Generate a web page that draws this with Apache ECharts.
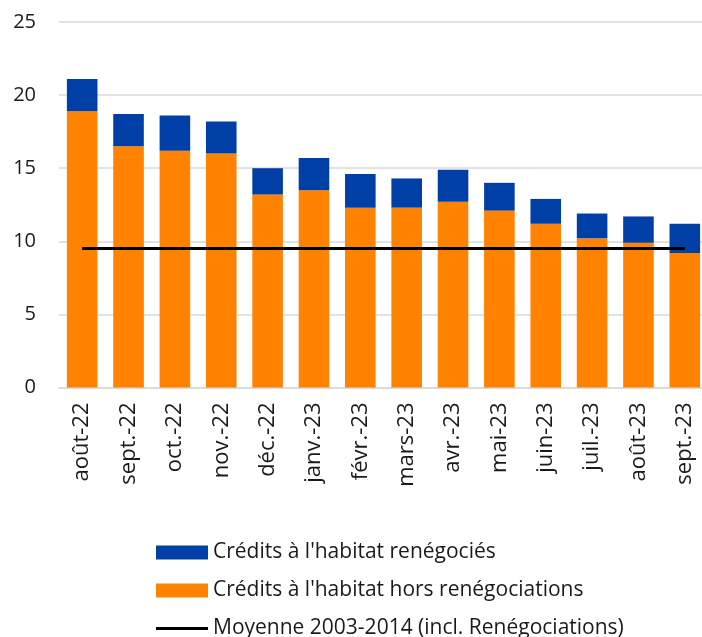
<!DOCTYPE html>
<html lang="fr">
<head>
<meta charset="UTF-8" />
<title>Crédits à l'habitat</title>
<script src="https://cdn.jsdelivr.net/npm/echarts@6/dist/echarts.min.js"></script>
<style>
  html, body { margin: 0; padding: 0; background: #fff; }
  #main { width: 702px; height: 637px; }
</style>
</head>
<body>
<div id="main"></div>
<script>
// données (Md€)
const months = ['août-22', 'sept.-22', 'oct.-22', 'nov.-22', 'déc.-22', 'janv.-23', 'févr.-23',
                'mars-23', 'avr.-23', 'mai-23', 'juin-23', 'juil.-23', 'août-23', 'sept.-23'];
const horsReneg = [18.9, 16.5, 16.2, 16.0, 13.2, 13.5, 12.3, 12.3, 12.7, 12.1, 11.2, 10.2, 9.9, 9.2];
const reneg = [2.2, 2.2, 2.4, 2.2, 1.8, 2.2, 2.3, 2.0, 2.2, 1.9, 1.7, 1.7, 1.8, 2.0];
const moyenne = [9.5, 9.5, 9.5, 9.5, 9.5, 9.5, 9.5, 9.5, 9.5, 9.5, 9.5, 9.5, 9.5, 9.5];

const nomReneg = "Crédits à l'habitat renégociés";
const nomHors = "Crédits à l'habitat hors renégociations";
const nomMoy = "Moyenne 2003-2014 (incl. Renégociations)";

const font = '"Open Sans", "Noto Sans", sans-serif';

let myChart = echarts.init(document.getElementById('main'));
myChart.setOption({
    animation: false,
    textStyle: { fontFamily: font },
    grid: {
        left: 59,
        width: 649,
        top: 22,
        height: 365.5,
        outerBoundsMode: 'none'
    },
    legend: {
        orient: 'vertical',
        left: 156,
        top: 542,
        height: 100,
        padding: 0,
        itemWidth: 52,
        itemHeight: 14,
        itemGap: 17,
        textStyle: { fontSize: 21, color: '#1a1a1a', fontFamily: font },
        data: [
            { name: nomReneg, icon: 'rect' },
            { name: nomHors, icon: 'rect' },
            { name: nomMoy, icon: 'path://M0,0H52V3H0Z' }
        ]
    },
    xAxis: {
        type: 'category',
        data: months,
        axisLine: { lineStyle: { color: '#d9d9d9', width: 1.5 } },
        axisTick: { show: false },
        axisLabel: {
            rotate: 90,
            margin: 15,
            fontSize: 22,
            color: '#1a1a1a',
            fontFamily: font
        }
    },
    yAxis: {
        type: 'value',
        min: 0,
        max: 25,
        interval: 5,
        axisLine: { show: false },
        axisTick: { show: false },
        splitLine: { lineStyle: { color: '#d9d9d9', width: 1.5 } },
        axisLabel: {
            margin: 23,
            fontSize: 20,
            color: '#1a1a1a',
            fontFamily: font
        }
    },
    series: [
        {
            name: nomHors,
            type: 'bar',
            stack: 'total',
            barCategoryGap: '34%',
            itemStyle: { color: '#ff8300' },
            data: horsReneg
        },
        {
            name: nomReneg,
            type: 'bar',
            stack: 'total',
            itemStyle: { color: '#0040a6' },
            data: reneg
        },
        {
            name: nomMoy,
            type: 'line',
            symbol: 'none',
            lineStyle: { color: '#000', width: 3 },
            itemStyle: { color: '#000' },
            data: moyenne
        }
    ]
});
</script>
</body>
</html>
